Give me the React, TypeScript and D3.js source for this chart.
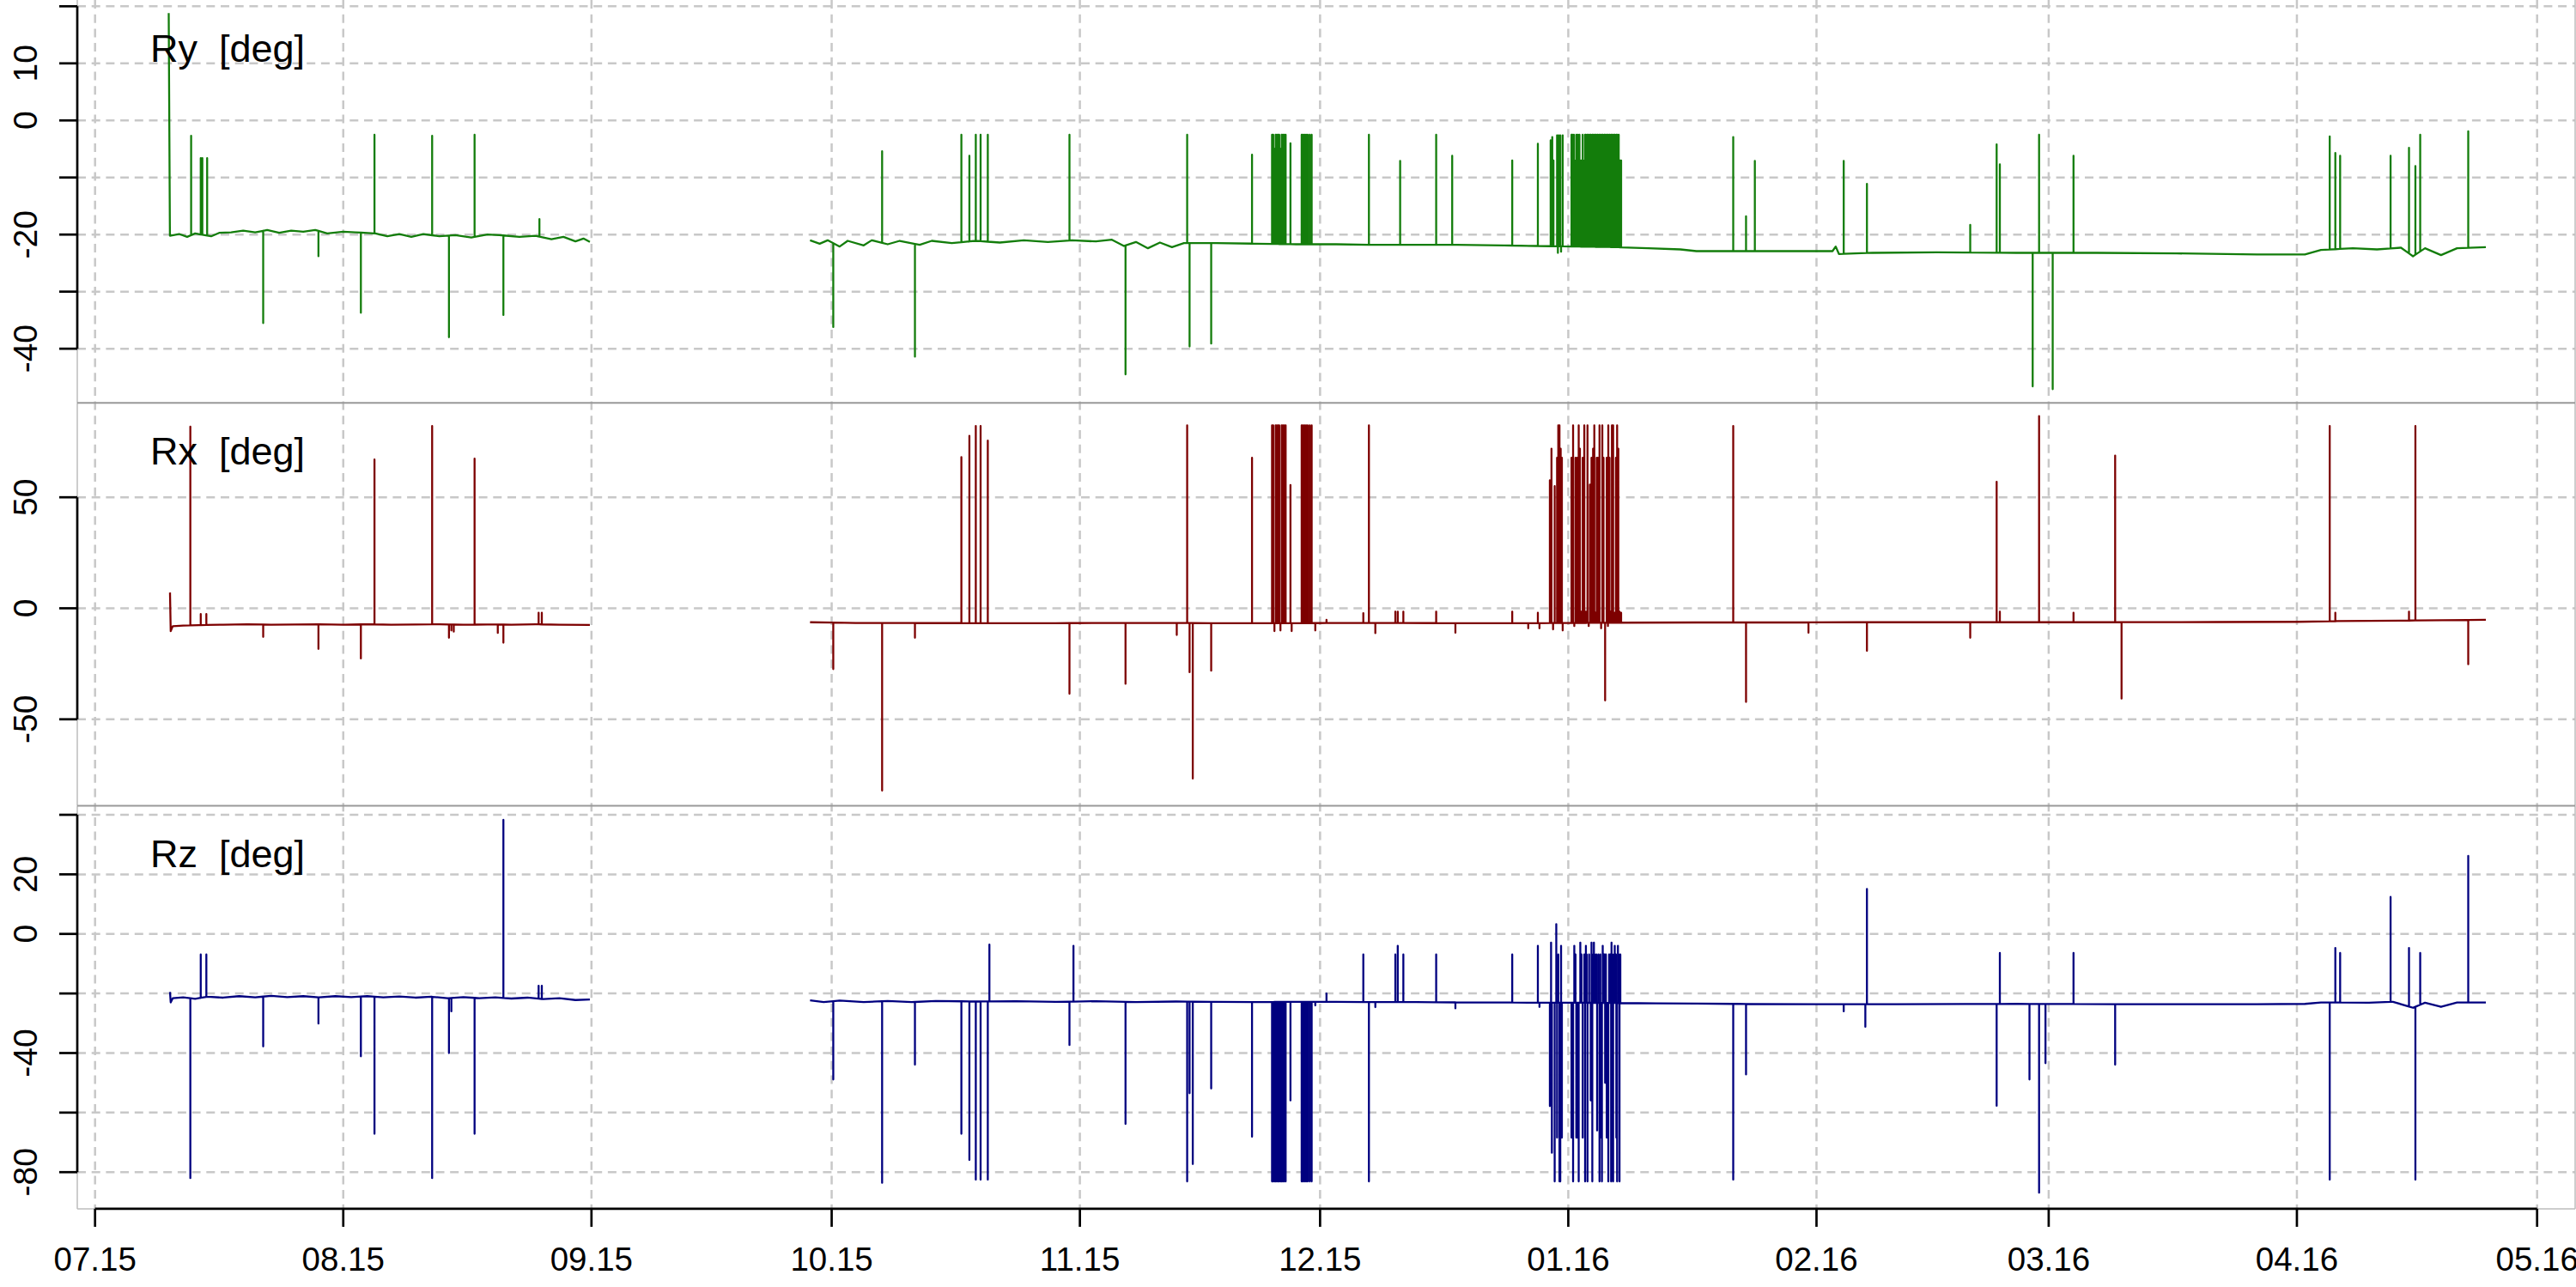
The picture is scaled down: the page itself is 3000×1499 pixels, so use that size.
import * as d3 from 'd3';
import React, { useEffect, useRef } from 'react';

// time is given in days counted from 2015-07-01 (UTC)
const START = Date.UTC(2015, 6, 1);
const DAY = 864e5;

const monthLabels = ['07.15', '08.15', '09.15', '10.15', '11.15', '12.15', '01.16', '02.16', '03.16', '04.16', '05.16'];

// ---------- Ry ----------
const ryBase: [number, number | null][] = [
    [9.2, 18.8], [9.35, -20.2], [10.5, -19.9], [11.5, -20.4], [12.5, -19.8], [14.5, -20.3], [15.5, -19.7], [17, -19.6],
    [18.5, -19.3], [20, -19.6], [21.5, -19.2], [23, -19.7], [24.5, -19.3], [26, -19.5], [27.5, -19.2], [29, -19.8],
    [31, -19.5], [32.5, -19.6], [35, -19.8], [36.5, -20.3], [38, -19.9], [39.5, -20.4], [41, -19.9], [43, -20.3],
    [45, -20.1], [47, -20.5], [49, -20.0], [50.5, -20.1], [53, -20.4], [55, -20.2], [57, -20.8], [58.5, -20.4],
    [60, -21.2], [61, -20.7], [61.8, -21.3],
    [75, null],
    [89.3, -21.0], [90.5, -21.6], [91.5, -21.0], [93, -22.1], [94, -21.1], [96, -21.9], [97, -21.0], [99, -21.7],
    [100.5, -21.1], [103, -21.8], [104.5, -21.1], [107, -21.5], [110, -21.1], [113, -21.4], [116, -21.0], [119, -21.3],
    [122, -21.0], [125, -21.2], [127, -20.9], [128.5, -22.0], [130, -21.3], [131.5, -22.4], [133, -21.4], [134.5, -22.2],
    [136, -21.5], [140, -21.5], [145, -21.6], [150, -21.7], [155, -21.7], [160, -21.8], [165, -21.8], [170, -21.8],
    [176, -21.9], [180, -22.0], [185, -22.1], [190, -22.2], [194, -22.4], [198, -22.6], [200, -22.9], [210, -22.9],
    [217, -22.9], [217.4, -22.1], [217.8, -23.4], [222, -23.2], [230, -23.1], [240, -23.2], [250, -23.2], [260, -23.3],
    [270, -23.5], [276, -23.5], [278, -22.7], [282, -22.4], [285, -22.6], [288, -22.3], [289.5, -23.8], [291, -22.4],
    [293, -23.6], [295, -22.4], [298.6, -22.2],
];
const rySpikes: [number, number][] = [
    [12.0, -2.7], [13.2, -6.6], [13.4, -6.6], [14.0, -6.6], [21.0, -35.5], [27.9, -23.8], [33.2, -33.7], [34.9, -2.5],
    [42.1, -2.7], [44.2, -38.0], [47.4, -2.5], [51.0, -34.1], [55.5, -17.3],
    [92.2, -36.2], [98.3, -5.4], [102.4, -41.4], [108.2, -2.5], [109.2, -6.2], [110.0, -2.5], [110.6, -2.5], [111.5, -2.5],
    [121.7, -2.5], [128.7, -44.5], [136.4, -2.5], [136.7, -39.6], [139.4, -39.1], [144.5, -6.0],
    [147.0, -2.5], [147.15, -2.5], [147.3, -5.0], [147.45, -2.5], [147.6, -2.5], [147.75, -2.5], [147.9, -2.5], [148.05, -5.0],
    [148.2, -2.5], [148.35, -2.5], [148.5, -2.5], [148.7, -2.5], [149.3, -4.0], [150.7, -2.5], [150.85, -2.5], [151.05, -2.5],
    [151.25, -2.5], [151.45, -2.5], [151.7, -2.5], [151.95, -2.5],
    [159.1, -2.5], [163.0, -7.1], [167.5, -2.5], [169.5, -6.2], [177.0, -7.0], [180.2, -4.1],
    [181.8, -3.5], [182.0, -2.9], [182.15, -7.0], [182.6, -2.6], [182.7, -23.2], [182.8, -2.6], [183.0, -2.6], [183.1, -23.0],
    [183.3, -2.6], [184.4, -2.5], [184.5, -2.5], [184.6, -7.0], [184.7, -2.5], [184.8, -7.0], [185.0, -2.5], [185.2, -2.5],
    [185.4, -2.5], [185.6, -7.0], [185.8, -2.5], [186.0, -7.0], [186.1, -2.5], [186.2, -2.5], [186.3, -7.0], [186.4, -2.5],
    [186.5, -2.5], [186.6, -7.0], [186.7, -2.5], [186.8, -2.5], [186.9, -7.0], [187.0, -2.5], [187.1, -2.5], [187.2, -7.0],
    [187.3, -2.5], [187.4, -2.5], [187.5, -7.0], [187.6, -2.5], [187.7, -2.5], [187.8, -7.0], [187.9, -2.5], [188.0, -2.5],
    [188.1, -7.0], [188.2, -2.5], [188.3, -2.5], [188.4, -7.0], [188.5, -2.5], [188.6, -2.5], [188.7, -7.0], [188.8, -2.5],
    [188.9, -2.5], [189.0, -7.0], [189.1, -2.5], [189.2, -2.5], [189.3, -7.0], [189.4, -2.5], [189.5, -2.5], [189.6, -7.0],
    [189.7, -2.5], [189.8, -2.5], [189.9, -7.0], [190.0, -2.5], [190.1, -2.5], [190.2, -7.0], [190.3, -2.5], [190.45, -7.0],
    [190.6, -7.0],
    [204.6, -2.9], [206.2, -16.8], [207.3, -7.1], [218.4, -7.1], [221.3, -11.1], [234.2, -18.3], [237.5, -4.2], [237.9, -7.7],
    [242.0, -46.6], [242.8, -2.5], [244.5, -47.1], [247.1, -6.2], [279.1, -2.8], [279.8, -5.7], [280.4, -6.2], [286.7, -6.2],
    [289.0, -4.8], [289.8, -8.0], [290.4, -2.5], [296.4, -1.9],
];

// ---------- Rx ----------
const rxBase: [number, number | null][] = [
    [9.36, 7.1], [9.45, -10.3], [9.7, -8.1], [11, -7.8], [13, -7.6], [16, -7.4], [19, -7.2], [22, -7.4], [25, -7.3],
    [28, -7.2], [31, -7.4], [34, -7.2], [37, -7.4], [40, -7.3], [43, -7.2], [46, -7.4], [49, -7.3], [52, -7.4],
    [55, -7.2], [58, -7.4], [61.8, -7.5],
    [75, null],
    [89.3, -6.3], [95, -6.6], [100, -6.6], [110, -6.7], [120, -6.7], [130, -6.6], [140, -6.7], [150, -6.7],
    [160, -6.6], [170, -6.7], [180, -6.7], [190, -6.5], [200, -6.4], [210, -6.4], [220, -6.3], [235, -6.3],
    [250, -6.3], [265, -6.2], [275, -6.1], [280, -5.8], [290, -5.5], [298.6, -5.2],
];
const rxSpikes: [number, number][] = [
    [11.9, 81.8], [13.2, -2.6], [13.9, -2.6], [21.0, -12.9], [27.9, -18.3], [33.2, -22.6], [34.9, 67.0], [42.1, 82.1],
    [44.2, -13.3], [44.5, -10.0], [44.8, -10.5], [47.4, 67.4], [50.3, -11.1], [51.0, -15.5], [55.4, -2.0], [55.8, -2.0],
    [92.2, -27.4], [98.3, -82.1], [102.4, -13.3], [108.2, 68.1], [109.2, 77.7], [110.0, 82.1], [110.6, 82.1], [111.5, 75.5],
    [121.7, -38.5], [128.7, -34.0], [135.1, -12.0], [136.4, 82.4], [136.7, -28.8], [137.1, -76.7], [139.4, -28.1], [144.5, 67.8],
    [147.0, 82.4], [147.15, 82.4], [147.3, -10.3], [147.45, 82.4], [147.6, 82.4], [147.75, 82.4], [147.9, 82.4], [148.05, -10.0],
    [148.2, 82.4], [148.35, 82.4], [148.5, 82.4], [148.7, 82.4], [149.3, 55.5], [149.45, -10.3], [150.7, 82.4], [150.85, 82.4],
    [151.05, 82.4], [151.25, 82.4], [151.45, 82.4], [151.7, 82.4], [151.95, 82.4], [152.4, -10.0], [153.8, -5.2],
    [158.4, -2.2], [159.1, 82.4], [159.9, -11.2], [162.4, -1.5], [162.7, -1.5], [163.4, -1.5], [167.5, -1.5], [169.9, -11.0],
    [177.0, -1.5], [179.0, -9.0], [180.2, -2.0], [180.4, -9.0],
    [181.7, 57.7], [181.9, 71.9], [182.1, -9.5], [182.3, 55.0], [182.6, 67.8], [182.75, 82.4], [182.9, 82.4], [183.05, 71.9],
    [183.2, 67.8], [183.3, -10.0], [184.4, 67.8], [184.6, 82.4], [184.75, -8.0], [184.9, 67.8], [185.1, 67.8], [185.3, 82.4],
    [185.45, 71.9], [185.6, -1.5], [185.8, 67.8], [186.0, 82.4], [186.2, -1.5], [186.4, 82.4], [186.55, -8.0], [186.7, 55.7],
    [186.9, 67.8], [187.1, 71.9], [187.25, 82.4], [187.4, -2.0], [187.55, 67.8], [187.7, 67.8], [187.9, 82.4], [188.1, -9.0],
    [188.25, 82.4], [188.4, 67.8], [188.6, -41.5], [188.8, 67.8], [188.95, -8.0], [189.0, 82.4], [189.15, 67.8], [189.3, -1.5],
    [189.45, 82.4], [189.6, 82.4], [189.8, -2.0], [189.95, 67.8], [190.1, 82.4], [190.25, 71.9], [190.4, -1.5], [190.6, -2.0],
    [204.6, 82.1], [206.2, -42.2], [214.0, -11.0], [221.3, -19.2], [234.2, -13.3], [237.5, 57.0], [237.9, -1.5], [242.8, 86.6],
    [247.1, -2.0], [252.3, 68.8], [253.1, -40.7], [279.1, 82.1], [279.8, -2.0], [289.0, -1.5], [289.8, 82.1], [296.4, -25.2],
];

// ---------- Rz ----------
const rzBase: [number, number | null][] = [
    [9.36, -19.5], [9.45, -23.0], [9.7, -21.6], [11, -21.3], [12.5, -21.8], [14, -21.1], [16, -21.4], [18, -20.9],
    [20, -21.3], [22, -20.8], [24, -21.2], [26, -20.9], [28, -21.3], [30, -20.9], [32, -21.2], [34, -20.9],
    [36, -21.3], [38, -21.0], [40, -21.4], [42, -21.1], [44, -21.6], [46, -21.2], [48, -21.6], [50, -21.3],
    [52, -21.7], [54, -21.4], [56, -21.9], [58, -21.6], [60, -22.2], [61.8, -22.0],
    [75, null],
    [89.3, -22.3], [91, -22.9], [93, -22.4], [96, -22.9], [99, -22.5], [102, -22.9], [105, -22.5], [110, -22.7],
    [115, -22.6], [120, -22.8], [125, -22.6], [130, -22.9], [135, -22.7], [140, -22.8], [145, -22.9], [150, -22.8],
    [155, -22.8], [160, -22.9], [165, -22.9], [170, -23.0], [175, -23.0], [180, -23.1], [185, -23.1], [190, -23.2],
    [195, -23.3], [200, -23.4], [205, -23.5], [215, -23.6], [225, -23.6], [240, -23.5], [255, -23.6], [270, -23.6],
    [276, -23.5], [278, -23.0], [284, -23.1], [287, -22.8], [289.5, -24.8], [291, -23.1], [293, -24.5], [295, -23.0],
    [298.6, -23.0],
];
const rzSpikes: [number, number][] = [
    [11.9, -82.0], [13.2, -6.9], [13.9, -6.9], [21.0, -37.8], [27.9, -30.1], [33.2, -41.1], [34.9, -67.1], [42.1, -82.0],
    [44.2, -40.0], [44.5, -26.0], [47.4, -67.1], [51.0, 38.3], [55.4, -17.4], [55.8, -17.4],
    [92.2, -48.9], [98.3, -83.6], [102.4, -43.9], [108.2, -67.1], [109.2, -75.9], [110.0, -82.5], [110.6, -82.5], [111.5, -82.5],
    [111.7, -3.6], [121.7, -37.3], [122.2, -4.0], [128.7, -63.8], [136.4, -83.1], [136.7, -53.5], [137.1, -77.3], [139.4, -51.9],
    [144.5, -68.1],
    [147.0, -83.1], [147.15, -83.1], [147.3, -83.1], [147.45, -83.1], [147.6, -83.1], [147.75, -83.1], [147.9, -83.1],
    [148.05, -83.1], [148.2, -83.1], [148.35, -83.1], [148.5, -83.1], [148.7, -83.1], [149.3, -55.9], [150.7, -83.1],
    [150.85, -83.1], [151.05, -83.1], [151.25, -83.1], [151.45, -83.1], [151.7, -83.1], [151.95, -83.1], [152.4, -24.0],
    [153.8, -20.0], [158.4, -6.9], [159.1, -83.1], [159.9, -24.6], [162.4, -6.9], [162.7, -4.0], [163.4, -6.9], [167.5, -6.9],
    [169.9, -25.0], [177.0, -6.9], [180.2, -4.0], [180.4, -24.5],
    [181.7, -57.8], [181.85, -2.9], [181.95, -73.5], [182.3, -83.1], [182.5, 3.3], [182.6, -68.4], [182.75, -6.9], [182.9, -83.1],
    [183.0, -83.1], [183.1, -4.0], [183.2, -68.4], [184.4, -68.4], [184.6, -83.1], [184.75, -4.0], [184.9, -6.9], [185.0, -68.4],
    [185.15, -68.4], [185.3, -83.1], [185.5, -2.9], [185.65, -6.9], [185.8, -68.4], [186.0, -6.9], [186.1, -83.1], [186.2, -4.0],
    [186.3, -6.9], [186.4, -83.1], [186.6, -6.9], [186.8, -55.9], [186.9, -2.9], [187.0, -83.1], [187.1, -6.9], [187.2, -2.9],
    [187.3, -6.9], [187.5, -6.9], [187.6, -66.0], [187.75, -6.9], [187.9, -83.1], [188.0, -6.9], [188.1, -68.4], [188.2, -83.1],
    [188.3, -4.0], [188.45, -6.9], [188.55, -6.9], [188.6, -50.0], [188.7, -6.9], [188.8, -68.4], [188.9, -68.4], [189.0, -83.1],
    [189.1, -6.9], [189.25, -6.9], [189.35, -83.1], [189.4, -2.9], [189.5, -6.9], [189.6, -83.1], [189.7, -6.9], [189.8, -4.0],
    [189.95, -6.9], [190.0, -68.4], [190.1, -83.1], [190.2, -4.0], [190.3, -6.9], [190.4, -83.1], [190.5, -6.9],
    [204.6, -82.5], [206.2, -47.2], [218.4, -26.0], [221.1, -31.2], [221.3, 15.1], [237.5, -57.7], [237.9, -6.4], [241.6, -48.9],
    [242.8, -86.9], [243.6, -43.4], [247.1, -6.4], [252.3, -43.9], [279.1, -82.5], [279.8, -4.7], [280.4, -6.4], [286.7, 12.4],
    [289.0, -4.7], [289.8, -82.5], [290.4, -6.4], [296.4, 26.2],
];

const panels = [
    { label: 'Ry  [deg]', color: '#137d0b', base: ryBase, spikes: rySpikes, domain: [-49.5, 21.1], ticks: [20, 10, 0, -10, -20, -30, -40], shown: [10, 0, -20, -40] },
    { label: 'Rx  [deg]', color: '#7d0000', base: rxBase, spikes: rxSpikes, domain: [-89.0, 92.5], ticks: [50, 0, -50], shown: [50, 0, -50] },
    { label: 'Rz  [deg]', color: '#00007f', base: rzBase, spikes: rzSpikes, domain: [-92.3, 43.0], ticks: [40, 20, 0, -20, -40, -60, -80], shown: [20, 0, -40, -80] },
];

// put every spike onto its segment of the base line
function buildSegments(base: [number, number | null][], spikes: [number, number][]) {
    const segs: [number, number][][] = [];
    let cur: [number, number][] = [];
    base.forEach(([t, v]) => {
        if (v == null) {
            if (cur.length) segs.push(cur);
            cur = [];
        } else cur.push([t, v]);
    });
    if (cur.length) segs.push(cur);

    const bis = d3.bisector((d: [number, number]) => d[0]).right;
    return segs.map((seg) => {
        const t0 = seg[0][0];
        const t1 = seg[seg.length - 1][0];
        const pts: any[] = seg.map((p) => ({ t: p[0], v: p[1], k: 0 }));
        spikes.filter((s) => s[0] > t0 && s[0] < t1).forEach(([t, v]) => {
            const i = bis(seg, t);
            const a = seg[i - 1], b = seg[i];
            const foot = a[1] + ((b[1] - a[1]) * (t - a[0])) / (b[0] - a[0]);
            pts.push({ t, v: foot, k: 1 }, { t, v, k: 2 }, { t, v: foot, k: 3 });
        });
        pts.sort((p: any, q: any) => p.t - q.t || p.k - q.k);
        return pts;
    });
}

export default () => {
    const ref = useRef<any>();

    useEffect(() => {
        const W = 3000, H = 1499;
        const left = 90, right = 2999;
        const panelH = 469.3;
        const font = '"Liberation Sans", Arial, Helvetica, sans-serif';

        const svg = d3.select<any, any>(ref.current).attr('width', W).attr('height', H);
        svg.selectAll('*').remove();
        svg.append('rect').attr('width', W).attr('height', H).attr('fill', 'white');

        const x = d3.scaleUtc()
            .domain([new Date(START), new Date(Date.UTC(2016, 4, 1))])
            .range([110.7, 2954.7]);
        const months = d3.utcMonths(new Date(START), new Date(Date.UTC(2016, 4, 2)));
        const bottom = panelH * 3;

        // vertical grid through all panels
        svg.append('g').selectAll('line').data(months).join('line')
            .attr('x1', (d: any) => x(d)).attr('x2', (d: any) => x(d))
            .attr('y1', 0).attr('y2', bottom)
            .attr('stroke', '#c8c8c8').attr('stroke-width', 2.5).attr('stroke-dasharray', '10 6.7');

        panels.forEach((p, pi) => {
            const top = pi * panelH;
            const y = d3.scaleLinear().domain(p.domain).range([top + panelH, top]);
            const g = svg.append('g');

            g.selectAll('.hgrid').data(p.ticks).join('line')
                .attr('class', 'hgrid')
                .attr('x1', left).attr('x2', right)
                .attr('y1', (d) => y(d)).attr('y2', (d) => y(d))
                .attr('stroke', '#c8c8c8').attr('stroke-width', 2.5).attr('stroke-dasharray', '10 6.7');

            const clipId = `clip${pi}`;
            svg.append('clipPath').attr('id', clipId).append('rect')
                .attr('x', left).attr('y', top).attr('width', right - left).attr('height', panelH);

            const line = d3.line<any>()
                .x((d) => x(new Date(START + d.t * DAY)))
                .y((d) => y(d.v));

            g.append('g').attr('clip-path', `url(#${clipId})`)
                .selectAll('path').data(buildSegments(p.base, p.spikes)).join('path')
                .attr('d', (d: any) => line(d))
                .attr('fill', 'none')
                .attr('stroke', p.color)
                .attr('stroke-width', 2.3)
                .attr('stroke-linejoin', 'round');

            // box
            g.append('line').attr('x1', left).attr('x2', left).attr('y1', top).attr('y2', top + panelH)
                .attr('stroke', '#bdbdbd').attr('stroke-width', 1.5);
            g.append('line').attr('x1', right).attr('x2', right).attr('y1', top).attr('y2', top + panelH)
                .attr('stroke', '#bdbdbd').attr('stroke-width', 1.5);
            if (pi > 0) {
                g.append('line').attr('x1', left).attr('x2', right).attr('y1', top).attr('y2', top)
                    .attr('stroke', '#999999').attr('stroke-width', 2);
            }

            // y axis
            const yAxis = g.append('g');
            yAxis.append('line')
                .attr('x1', left).attr('x2', left)
                .attr('y1', y(p.ticks[0])).attr('y2', y(p.ticks[p.ticks.length - 1]))
                .attr('stroke', 'black').attr('stroke-width', 2.7);
            yAxis.selectAll('.tk').data(p.ticks).join('line')
                .attr('class', 'tk')
                .attr('x1', left - 21).attr('x2', left)
                .attr('y1', (d) => y(d)).attr('y2', (d) => y(d))
                .attr('stroke', 'black').attr('stroke-width', 2.7);
            yAxis.selectAll('text').data(p.shown).join('text')
                .attr('transform', (d) => `translate(43, ${y(d)}) rotate(-90)`)
                .attr('text-anchor', 'middle')
                .attr('font-family', font).attr('font-size', 39)
                .text((d) => `${d}`);

            g.append('text')
                .attr('x', 175).attr('y', top + 71.5)
                .attr('font-family', font).attr('font-size', 45)
                .style('white-space', 'pre')
                .text(p.label);
        });

        // bottom box + x axis
        svg.append('line').attr('x1', left).attr('x2', right).attr('y1', bottom).attr('y2', bottom)
            .attr('stroke', '#bdbdbd').attr('stroke-width', 1.5);
        const xa = svg.append('g');
        xa.append('line')
            .attr('x1', x(months[0])).attr('x2', x(months[months.length - 1]))
            .attr('y1', bottom).attr('y2', bottom)
            .attr('stroke', 'black').attr('stroke-width', 2.7);
        xa.selectAll('.xt').data(months).join('line')
            .attr('class', 'xt')
            .attr('x1', (d: any) => x(d)).attr('x2', (d: any) => x(d))
            .attr('y1', bottom).attr('y2', bottom + 21)
            .attr('stroke', 'black').attr('stroke-width', 2.7);
        xa.selectAll('text').data(months).join('text')
            .attr('x', (d: any) => x(d)).attr('y', 1480)
            .attr('text-anchor', 'middle')
            .attr('font-family', font).attr('font-size', 38.5)
            .text((d: any, i: number) => monthLabels[i]);
    });

    return (
        <div style={{ position: 'absolute', left: 0, top: 0 }}>
            <svg ref={ref}></svg>
        </div>
    );
};
